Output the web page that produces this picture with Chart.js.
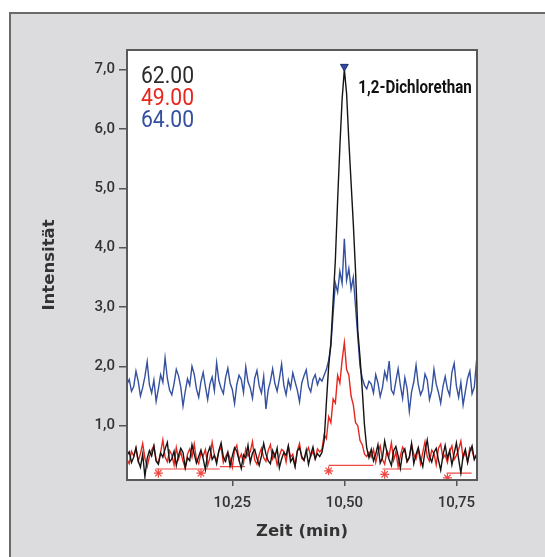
<!DOCTYPE html>
<html lang="de">
<head>
<meta charset="utf-8">
<title>1,2-Dichlorethan – Ionenspuren</title>
<script src="https://cdn.jsdelivr.net/npm/chart.js@4.4.1/dist/chart.umd.min.js"></script>
<style>
  html, body { margin: 0; padding: 0; background: #fff; }
  #wrap { position: relative; width: 545px; height: 557px; overflow: hidden; }
  #panel {
    position: absolute; left: 9px; top: 12px; width: 580px; height: 580px;
    background: #dcdcde; border: 2px solid #6a6a6a; box-sizing: border-box;
  }
  #chart { position: absolute; left: 0; top: 0; }
</style>
</head>
<body>
<div id="wrap">
  <div id="panel"></div>
  <canvas id="chart" width="545" height="557"></canvas>
</div>
<script>
// Ion traces around the 1,2-dichloroethane peak (m/z 62, 49, 64)

// scan grid
const sampleStart = 10.015; // min
const sampleStep = 0.005;   // min between scans

// m/z 62
const ion62 = [
  0.50,0.56,0.38,0.47,0.63,0.41,0.30,0.52,0.14,0.45,0.58,0.49,0.66,0.40,0.35,0.54,0.47,0.61,0.72,0.39,
  0.44,0.57,0.33,0.50,0.62,0.55,0.29,0.46,0.41,0.68,0.52,0.37,0.48,0.59,0.44,0.26,0.53,0.64,0.43,0.50,
  0.36,0.58,0.71,0.47,0.40,0.55,0.32,0.49,0.63,0.57,0.42,0.28,0.51,0.46,0.67,0.38,0.54,0.60,0.45,0.33,
  0.49,0.70,0.52,0.41,0.36,0.58,0.47,0.62,0.29,0.44,0.55,0.50,0.66,0.39,0.46,0.31,0.57,0.63,0.48,0.42,
  0.59,0.35,0.51,0.64,0.44,0.53,0.48,
  0.55,0.75,1.40,2.00,2.40,3.10,3.80,4.80,5.70,6.50,7.00,6.60,5.80,5.10,4.40,3.60,2.60,2.15,1.60,1.00,0.62,0.46,
  0.60,0.41,0.52,0.68,0.37,0.46,0.74,0.55,0.43,0.33,0.58,0.65,0.49,0.28,0.54,0.61,0.40,0.47,0.70,0.36,
  0.52,0.63,0.44,0.31,0.57,0.76,0.48,0.39,0.55,0.62,0.42,0.25,0.50,0.67,0.45,0.58,0.34,0.53,0.71,0.44,
  0.20,0.49,0.60,0.38,0.56,0.66,0.43,0.51
];

// m/z 49
const ion49 = [
  0.43,0.36,0.57,0.49,0.62,0.40,0.53,0.70,0.45,0.31,0.48,0.59,0.66,0.42,0.37,0.55,0.76,0.47,0.39,0.58,
  0.51,0.34,0.63,0.44,0.56,0.40,0.29,0.52,0.61,0.47,0.69,0.43,0.36,0.54,0.49,0.60,0.33,0.46,0.72,0.50,
  0.41,0.57,0.64,0.38,0.48,0.55,0.45,0.30,0.59,0.67,0.43,0.52,0.37,0.61,0.49,0.56,0.73,0.42,0.35,0.51,
  0.62,0.46,0.40,0.58,0.68,0.44,0.53,0.34,0.49,0.60,0.57,0.39,0.65,0.47,0.52,0.32,0.58,0.70,0.45,0.41,
  0.55,0.63,0.48,0.57,0.44,0.61,0.56,
  0.60,0.85,0.78,1.15,1.05,1.45,1.38,1.85,1.72,2.10,2.40,1.95,1.85,1.50,1.35,1.05,1.00,0.75,0.68,0.52,0.48,0.55,
  0.47,0.60,0.38,0.55,0.66,0.43,0.35,0.58,0.50,0.71,0.42,0.56,0.31,0.49,0.64,0.57,0.39,0.46,0.68,0.52,
  0.44,0.61,0.36,0.55,0.73,0.48,0.40,0.59,0.53,0.34,0.62,0.69,0.45,0.51,0.38,0.57,0.66,0.43,0.50,0.60,
  0.74,0.46,0.55,0.39,0.63,0.58,0.44,0.52
];

// m/z 64
const ion64 = [
  1.70,1.78,1.58,1.66,1.92,1.75,1.50,1.64,1.83,2.08,1.69,1.55,1.77,1.41,1.62,1.86,1.73,2.14,1.80,1.60,
  1.52,1.71,1.95,1.84,1.65,1.33,1.58,1.79,1.68,2.00,1.87,1.62,1.48,1.74,1.90,1.66,1.44,1.70,1.82,1.59,
  2.06,1.76,1.63,1.54,1.81,1.97,1.72,1.61,1.37,1.69,1.85,1.78,1.56,1.99,1.74,1.64,1.46,1.80,1.93,1.67,
  1.55,1.83,1.28,1.60,1.75,1.96,1.71,1.58,1.79,2.04,1.68,1.52,1.77,1.63,1.89,1.74,1.60,1.40,1.72,1.84,
  1.94,1.66,1.57,1.78,1.86,1.69,1.80,
  1.75,1.85,1.95,2.10,2.35,2.90,3.40,3.25,3.60,3.40,4.15,3.45,3.65,3.30,3.50,3.00,2.50,2.00,1.80,1.68,1.62,1.75,
  1.70,1.55,1.86,1.72,1.49,1.64,1.91,1.78,2.09,1.60,1.53,1.75,1.96,1.68,1.46,1.81,1.63,1.24,1.57,1.74,
  2.02,1.69,1.52,1.61,1.87,1.77,1.44,1.59,1.95,1.70,1.56,1.38,1.66,1.83,1.62,1.51,1.90,2.05,1.67,1.48,
  1.73,1.35,1.58,1.80,1.92,1.54,1.65,2.10
];

const traceLabels = ['62.00', '49.00', '64.00'];
const traceColors = ['#141414', '#e8261e', '#34509f'];
const labelColors = ['#2b2b2b', '#e8261e', '#34509f'];

// integration baselines drawn under the m/z 49 trace
const baseStart = [10.078, 10.222, 10.465, 10.585, 10.728];
const baseEnd = [10.222, 10.278, 10.565, 10.650, 10.784];
const baseLevel = [0.27, 0.31, 0.33, 0.27, 0.20];
const baseMarkTime = [10.085, 10.180, 10.465, 10.590, 10.730];
const baseMarkLevel = [0.20, 0.20, 0.24, 0.18, 0.12];

// identified peak
const peakName = '1,2-Dichlorethan';
const peakTime = 10.50;
const peakTop = 7.05;

const xTicks = [10.25, 10.50, 10.75];
const yTicks = [1, 2, 3, 4, 5, 6, 7];

function toPoints(values) {
  return values.map((v, i) => ({ x: sampleStart + i * sampleStep, y: v }));
}

const baselinePoints = [];
baseStart.forEach((s, i) => {
  baselinePoints.push({ x: s, y: baseLevel[i] }, { x: baseEnd[i], y: baseLevel[i] }, { x: baseEnd[i], y: null });
});

const tickFont = { family: 'Roboto, "Liberation Sans", sans-serif', size: 15, weight: '500' };
const titleFont = { family: '"DejaVu Sans", sans-serif', size: 16.5, weight: 'bold' };

// narrow lettering: squeeze the text horizontally around its left edge
function fillNarrow(ctx, text, x, y, squeeze) {
  ctx.save();
  ctx.translate(x, y);
  ctx.scale(squeeze, 1);
  ctx.fillText(text, 0, 0);
  ctx.restore();
}

// white plot area, frame and the text labels inside it
const plotDecor = {
  id: 'plotDecor',
  beforeDraw(chart) {
    const { ctx, chartArea: a } = chart;
    ctx.save();
    ctx.fillStyle = '#ffffff';
    ctx.fillRect(a.left, a.top, a.right - a.left, a.bottom - a.top);
    ctx.restore();
  },
  afterDraw(chart) {
    const { ctx, chartArea: a, scales } = chart;
    ctx.save();
    ctx.strokeStyle = '#595959';
    ctx.lineWidth = 2;
    ctx.strokeRect(a.left, a.top, a.right - a.left, a.bottom - a.top);

    ctx.textBaseline = 'middle';
    ctx.textAlign = 'left';
    ctx.font = '24px Roboto, "Liberation Sans", sans-serif';
    traceLabels.forEach((t, i) => {
      ctx.fillStyle = labelColors[i];
      fillNarrow(ctx, t, a.left + 14, a.top + 27 + i * 22, 0.88);
    });

    ctx.fillStyle = '#111111';
    ctx.font = 'bold 18px Roboto, "Liberation Sans", sans-serif';
    fillNarrow(ctx, peakName, scales.x.getPixelForValue(peakTime) + 14, scales.y.getPixelForValue(peakTop) + 22, 0.84);
    ctx.restore();
  }
};

new Chart(document.getElementById('chart'), {
  type: 'line',
  data: {
    datasets: [
      {
        label: 'peak',
        data: [{ x: peakTime, y: peakTop }],
        showLine: false,
        pointStyle: 'triangle',
        rotation: 180,
        pointRadius: 4.5,
        pointBackgroundColor: '#2f4aa0',
        pointBorderColor: '#1d2d6b',
        pointBorderWidth: 1,
        order: 0
      },
      {
        label: traceLabels[0],
        data: toPoints(ion62),
        borderColor: traceColors[0],
        borderWidth: 1.4,
        pointRadius: 0,
        order: 1
      },
      {
        label: traceLabels[2],
        data: toPoints(ion64),
        borderColor: traceColors[2],
        borderWidth: 1.4,
        pointRadius: 0,
        order: 2
      },
      {
        label: traceLabels[1],
        data: toPoints(ion49),
        borderColor: traceColors[1],
        borderWidth: 1.4,
        pointRadius: 0,
        order: 3
      },
      {
        label: 'baseline',
        data: baselinePoints,
        borderColor: '#ef4a44',
        borderWidth: 1.2,
        pointRadius: 0,
        spanGaps: false,
        order: 4
      },
      {
        label: 'marks',
        data: baseMarkTime.map((t, i) => ({ x: t, y: baseMarkLevel[i] })),
        showLine: false,
        pointStyle: 'star',
        pointRadius: 4.5,
        pointBorderColor: '#ef4a44',
        pointBorderWidth: 1.2,
        order: 4
      }
    ]
  },
  options: {
    responsive: false,
    devicePixelRatio: 1,
    animation: false,
    events: [],
    elements: { line: { tension: 0 } },
    layout: { padding: { left: 0, top: 50, right: 68, bottom: 0 } },
    plugins: {
      legend: { display: false },
      tooltip: { enabled: false }
    },
    scales: {
      x: {
        type: 'linear',
        min: 10.015,
        max: 10.796,
        afterBuildTicks: scale => { scale.ticks = xTicks.map(v => ({ value: v })); },
        afterFit: scale => { scale.height = 77; },
        grid: { drawOnChartArea: false, drawTicks: true, tickLength: 6, color: '#555', lineWidth: 1.5 },
        border: { display: false },
        ticks: {
          font: tickFont,
          color: '#333',
          padding: 8,
          maxRotation: 0,
          callback: v => v.toFixed(2).replace('.', ',')
        },
        title: {
          display: true,
          text: 'Zeit (min)',
          font: titleFont,
          color: '#333',
          padding: { top: 0, bottom: 15 }
        }
      },
      y: {
        type: 'linear',
        min: 0.085,
        max: 7.33,
        afterBuildTicks: scale => { scale.ticks = yTicks.map(v => ({ value: v })); },
        afterFit: scale => { scale.width = 127; },
        grid: { drawOnChartArea: false, drawTicks: true, tickLength: 8, color: '#555', lineWidth: 1.5 },
        border: { display: false },
        ticks: {
          font: tickFont,
          color: '#333',
          padding: 4,
          callback: v => v.toFixed(1).replace('.', ',')
        },
        title: {
          display: true,
          text: 'Intensität',
          font: titleFont,
          color: '#333',
          padding: { top: 40, bottom: 0 }
        }
      }
    }
  },
  plugins: [plotDecor]
});
</script>
</body>
</html>
